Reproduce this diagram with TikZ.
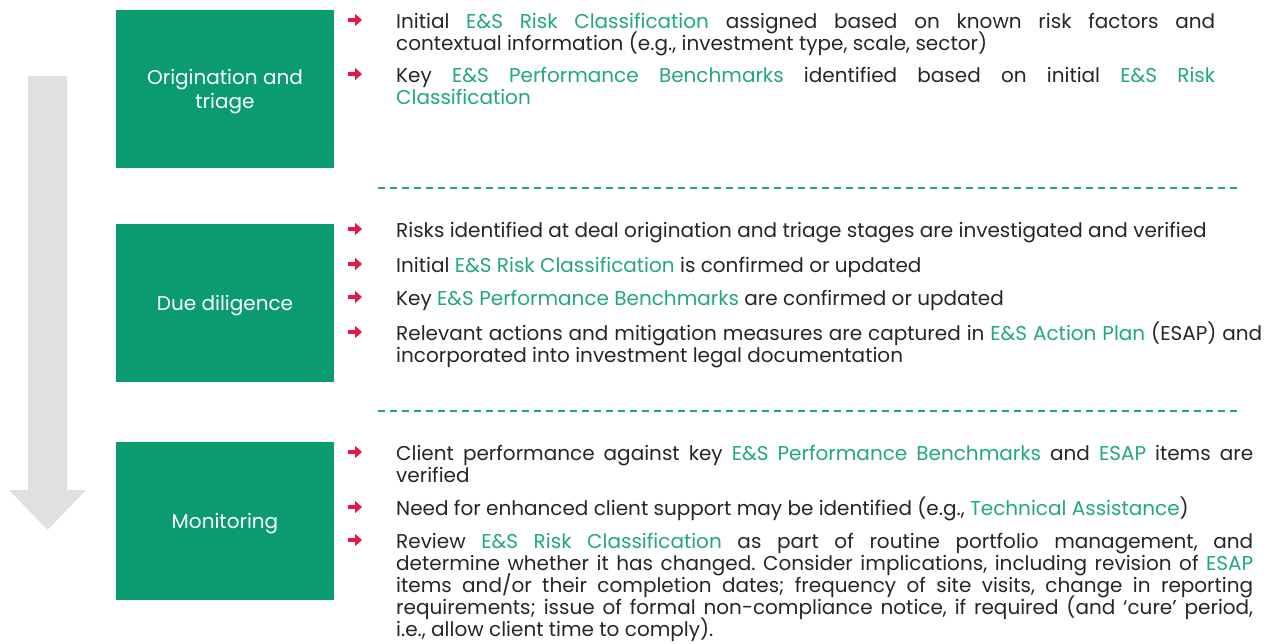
\documentclass[tikz,border=0pt]{standalone}
\usepackage{fontspec}
\setmainfont{Poppins}
\usetikzlibrary{arrows.meta}
\definecolor{boxgreen}{HTML}{0A9B71}
\definecolor{hlgreen}{HTML}{22A87A}
\definecolor{dashgreen}{HTML}{1DAA7D}
\definecolor{bulletred}{HTML}{E4184A}
\definecolor{bodytext}{HTML}{262626}
\definecolor{flowgray}{HTML}{E0E0E0}
\newcommand{\hl}[1]{\textcolor{hlgreen}{#1}}
% fixed leading, never widened by tall glyphs
\newcommand{\fixedlead}{\setlength{\lineskiplimit}{-50pt}\setlength{\lineskip}{0pt}}
\newcommand{\bodysize}{\fontsize{20}{22}\selectfont\frenchspacing\fixedlead}
\newcommand{\boxsize}{\fontsize{20}{24}\selectfont\fixedlead}
% justified multi-line item; the font is set inside the parbox
\newcommand{\itempar}[2]{\parbox[t]{#1}{\bodysize #2}}
\tikzset{
  stagebox/.style={fill=boxgreen, minimum width=218pt, minimum height=158pt,
    inner sep=0pt},
  stagelabel/.style={inner sep=0pt, text=white, align=center, font=\boxsize},
  itemtext/.style={anchor=base west, inner sep=0pt, text=bodytext, font=\bodysize},
  bullet/.style={bulletred, line width=3.2pt, -{Triangle[length=7pt,width=12pt]}},
  divider/.style={dashgreen, line width=2.2pt, dash pattern=on 7pt off 5pt}
}
\begin{document}
\begin{tikzpicture}[x=1pt, y=-1pt]
\useasboundingbox (0,0) rectangle (1280,643);

% downward flow arrow
\fill[flowgray] (28,76) -- (67,76) -- (67,490) -- (86,490) -- (47.5,530)
  -- (9,490) -- (28,490) -- cycle;

% stage boxes and their labels
\node[stagebox] (orig) at (225,89) {};
\node[stagebox] (dd) at (225,303) {};
\node[stagebox] (mon) at (225,521) {};
\node[stagelabel] (origlbl) at ([yshift=-3pt]orig.center) {Origination and\\triage};
\node[stagelabel] (ddlbl) at ([yshift=-3pt]dd.center) {Due diligence};
\node[stagelabel] (monlbl) at ([yshift=-3pt]mon.center) {Monitoring};

% dividers
\coordinate (d1a) at (378,188); \coordinate (d1b) at (1240,188);
\coordinate (d2a) at (378,411); \coordinate (d2b) at (1240,411);
\draw[divider] (d1a) -- (d1b);
\draw[divider] (d2a) -- (d2b);

% bullet arrows
\foreach \b in {28,82,237,272,305,340,460,515,548}{
  \draw[bullet] (348,\b-8) -- (362,\b-8);
}

% origination and triage
\node[itemtext] (o1) at (396,28) {\itempar{819pt}{Initial \hl{E\&S Risk Classification} assigned based on known risk factors and\linebreak contextual information (e.g., investment type, scale, sector)}};
\node[itemtext] (o2) at (396,82) {\itempar{819pt}{Key \hl{E\&S Performance Benchmarks} identified based on initial \hl{E\&S Risk}\linebreak \hl{Classification}}};

% due diligence
\node[itemtext] (d1) at (396,237) {Risks identified at deal origination and triage stages are investigated and verified};
\node[itemtext] (d2) at (396,272) {Initial \hl{E\&S Risk Classification} is confirmed or updated};
\node[itemtext] (d3) at (396,305) {Key \hl{E\&S Performance Benchmarks} are confirmed or updated};
\node[itemtext] (d4) at (396,340) {\itempar{866pt}{Relevant actions and mitigation measures are captured in \hl{E\&S Action Plan} (ESAP) and\linebreak incorporated into investment legal documentation}};

% monitoring
\node[itemtext] (m1) at (396,460) {\itempar{857pt}{Client performance against key \hl{E\&S Performance Benchmarks} and \hl{ESAP} items are\linebreak verified}};
\node[itemtext] (m2) at (396,515) {Need for enhanced client support may be identified (e.g., \hl{Technical Assistance})};
\node[itemtext] (m3) at (396,548) {\itempar{857pt}{Review \hl{E\&S Risk Classification} as part of routine portfolio management, and\linebreak determine whether it has changed. Consider implications, including revision of \hl{ESAP}\linebreak items and/or their completion dates; frequency of site visits, change in reporting\linebreak requirements; issue of formal non-compliance notice, if required (and ‘cure’ period,\linebreak i.e., allow client time to comply).}};
\end{tikzpicture}
\end{document}
